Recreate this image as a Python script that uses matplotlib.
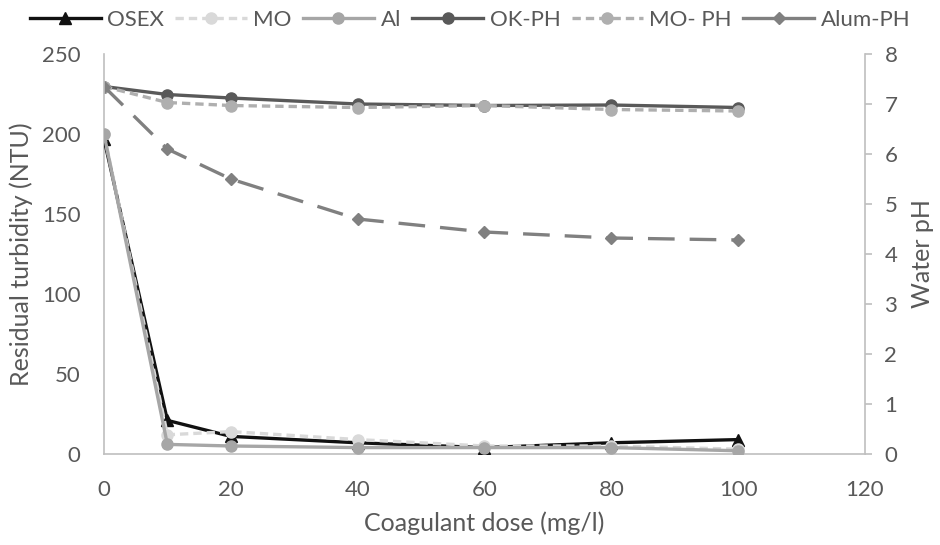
import matplotlib
matplotlib.use('Agg')
import matplotlib.pyplot as plt
from matplotlib.lines import Line2D

plt.rcParams['font.family'] = ['Lato', 'DejaVu Sans']

# Coagulant dose (mg/l)
dose = [0, 10, 20, 40, 60, 80, 100]

# Residual turbidity (NTU), left axis
osex = [197, 21, 11, 7, 4, 7, 9]
mo = [200, 12, 14, 9, 5, 5, 3]
al = [200, 6, 5, 4, 4, 4, 2]

# Water pH, right axis
ok_ph = [7.35, 7.19, 7.12, 7.0, 6.97, 6.98, 6.93]
mo_ph = [7.35, 7.03, 6.97, 6.93, 6.97, 6.89, 6.86]
alum_ph = [7.35, 6.1, 5.5, 4.7, 4.44, 4.32, 4.28]

text_col = '#595959'
axis_col = '#bfbfbf'

fig = plt.figure(figsize=(9.4, 5.45), dpi=100)
ax = fig.add_axes([0.1106, 0.167, 0.8096, 0.7339])
ax2 = ax.twinx()

lw = 2.4
ms = 8

# pH lines
ax2.plot(dose, ok_ph, color='#595959', lw=lw, marker='o', ms=ms, label='OK-PH', zorder=3)
ax2.plot(dose, mo_ph, color='#afafaf', lw=lw, ls=(0, (2.5, 1.5)), marker='o', ms=ms, label='MO- PH', zorder=4)
ax2.plot(dose, alum_ph, color='#808080', lw=lw, ls=(0, (8, 4.5)), marker='D', ms=6, label='Alum-PH', zorder=5)

# turbidity lines
ax.plot(dose, osex, color='#111111', lw=lw, marker='^', ms=ms, label='OSEX', zorder=3)
ax.plot(dose, mo, color='#d9d9d9', lw=lw, ls=(0, (2.5, 1.5)), marker='o', ms=ms, label='MO', zorder=4)
ax.plot(dose, al, color='#a6a6a6', lw=lw, marker='o', ms=ms, label='Al', zorder=5)

ax.set_zorder(ax2.get_zorder() + 1)
ax.patch.set_visible(False)

ax.set_xlim(0, 120)
ax.set_ylim(0, 250)
ax2.set_ylim(0, 8)
ax.set_xticks(range(0, 121, 20))
ax.set_yticks(range(0, 251, 50))
ax2.set_yticks(range(0, 9))

for a in (ax, ax2):
    for s in a.spines.values():
        s.set_visible(False)
ax.spines['left'].set_visible(True)
ax.spines['bottom'].set_visible(True)
ax.spines['left'].set_color(axis_col)
ax.spines['bottom'].set_color(axis_col)
ax.spines['left'].set_linewidth(1.2)
ax.spines['bottom'].set_linewidth(1.2)
ax2.spines['right'].set_visible(True)
ax2.spines['right'].set_color(axis_col)
ax2.spines['right'].set_linewidth(1.2)

ax.tick_params(axis='x', length=0, labelsize=16, colors=text_col, pad=19)
ax.tick_params(axis='y', length=0, labelsize=16, colors=text_col, pad=17)
ax2.tick_params(axis='y', length=5, width=1.2, color=axis_col, labelsize=16, labelcolor=text_col, pad=9)

ax.set_xlabel('Coagulant dose (mg/l)', fontsize=18, color=text_col, labelpad=8)
ax.set_ylabel('Residual turbidity (NTU)', fontsize=18, color=text_col, labelpad=6)
ax2.set_ylabel('Water pH', fontsize=18, color=text_col, labelpad=10)

handles = [
    Line2D([], [], color='#111111', lw=lw, marker='^', ms=ms),
    Line2D([], [], color='#d9d9d9', lw=lw, ls=(0, (2.5, 1.5)), marker='o', ms=ms),
    Line2D([], [], color='#a6a6a6', lw=lw, marker='o', ms=ms),
    Line2D([], [], color='#595959', lw=lw, marker='o', ms=ms),
    Line2D([], [], color='#afafaf', lw=lw, ls=(0, (2.5, 1.5)), marker='o', ms=ms),
    Line2D([], [], color='#808080', lw=lw, marker='D', ms=6),
]
labels = ['OSEX', 'MO', 'Al', 'OK-PH', 'MO- PH', 'Alum-PH']
leg = fig.legend(handles, labels, loc='center', bbox_to_anchor=(0.5, 0.963), ncol=6,
                 frameon=False, fontsize=16, handlelength=3.2, handletextpad=0.3,
                 columnspacing=0.5, labelcolor=text_col)

fig.savefig('out.png', dpi=100)
